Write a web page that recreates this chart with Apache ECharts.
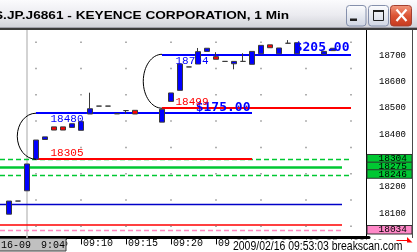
<!DOCTYPE html>
<html><head><meta charset="utf-8">
<style>html,body{margin:0;padding:0;background:#fff;overflow:hidden}#c{width:417px;height:252px}</style>
<script src="https://cdn.jsdelivr.net/npm/echarts@6/dist/echarts.min.js"></script>
</head><body><div id="c"></div>
<script>
// ---- data ----
const categories = ['09:01','09:02','09:03','09:04','09:05','09:06','09:07','09:08','09:09','09:10',
  '09:11','09:12','09:13','09:14','09:15','09:16','09:17','09:18','09:19','09:20',
  '09:21','09:22','09:23','09:24','09:25','09:26','09:27','09:28','09:29','09:30',
  '09:31','09:32','09:33','09:34','09:35','09:36','09:37','09:38','09:39','09:40','09:41','09:42'];
// [open, close, low, high]
const candles = [
  '-',
  [18096,18146,18096,18146],
  [18146,18146,18146,18146],
  [18185,18287,18185,18287],
  [18305,18378,18305,18378],
  [18380,18390,18380,18390],
  [18428,18416,18416,18428],
  [18428,18416,18416,18428],
  [18426,18440,18426,18440],
  [18415,18448,18415,18448],
  [18477,18497,18477,18558],
  [18507,18507,18507,18507],
  [18507,18507,18507,18507],
  [18478,18478,18478,18478],
  [18490,18490,18478,18490],
  [18491,18477,18477,18491],
  '-',
  '-',
  [18446,18495,18446,18495],
  [18525,18557,18525,18557],
  [18567,18667,18567,18667],
  [18656,18656,18656,18656],
  [18667,18714,18667,18728],
  [18715,18727,18715,18727],
  [18695,18685,18685,18712],
  [18677,18677,18677,18677],
  [18668,18677,18647,18677],
  [18677,18677,18677,18708],
  [18666,18715,18666,18715],
  [18706,18738,18706,18738],
  [18740,18729,18729,18740],
  [18706,18728,18706,18728],
  [18746,18746,18746,18758],
  [18706,18748,18706,18748],
  '-',
  '-',
  [18704,18715,18704,18715],
  [18718,18727,18718,18727],
  '-',
  '-',
  '-',
  '-'
];
const levelValues = [18304, 18275, 18246, 18135, 18054, 18034, 18305, 18480, 18499, 18704];
const levelStart  = ['09:01','09:01','09:01','09:01','09:01','09:01','09:05','09:05','09:19','09:19'];
const levelEnd    = ['09:40','09:39','09:40','09:39','09:39','09:39','09:29','09:29','09:40','09:40'];
const cursorTime = '09:04';
const arcTimes = ['09:05','09:19'];
const arcTop = [18480, 18704];
const arcBottom = [18305, 18499];
const annoTexts  = ['18480','18305','$175.00','18704','18499','$205.00'];
const annoTimes  = ['09:05','09:05','09:29','09:19','09:19','09:40'];
const annoValues = [18480, 18305, 18480, 18704, 18499, 18704];
const tagValues = [18304, 18275, 18246, 18034];
const tagTexts = ['18304','18275','18246','18034'];
const dotTimes = ['09:05','09:10','09:15','09:20','09:25','09:30','09:35','09:40'];
const dotLevels = [18050,18150,18250,18350,18450,18550,18650,18750];
const yMin = 18000, yMax = 18800, yStep = 100;
const titleText = 'S.JP.J6861 - KEYENCE CORPORATION, 1 Min';
const cursorDate = '16-09';
const cursorClock = '9:04';
const stampText = '2009/02/16 09:53:03 breakscan.com';

// ---- styles ----
const BLUE = '#0000ff', RED = '#ff0000', GREEN = '#00c832', PINK = '#ff88c0';
const levelStyles = [
  {color: GREEN, width: 1.3, type: [5, 3]},
  {color: GREEN, width: 2.5, type: 'solid'},
  {color: GREEN, width: 1.3, type: [5, 3]},
  {color: '#0000c8', width: 1.3, type: 'solid'},
  {color: RED, width: 1.6, type: 'solid'},
  {color: PINK, width: 1.4, type: [5, 3]},
  {color: RED, width: 2, type: 'solid'},
  {color: BLUE, width: 2.2, type: 'solid'},
  {color: RED, width: 2, type: 'solid'},
  {color: BLUE, width: 2.2, type: 'solid'}
];
const MONO = '"Liberation Mono", "DejaVu Sans Mono", monospace';
const annoStyles = [
  {dx: 14.5, dy: 6.3, color: BLUE, font: '11px ' + MONO, align: 'left'},
  {dx: 14.5, dy: -6.3, color: RED, font: '11px ' + MONO, align: 'left'},
  {dx: -1.5, dy: -6, color: BLUE, font: 'bold 13px "DejaVu Sans Mono", monospace', align: 'right'},
  {dx: 13.5, dy: 6.3, color: BLUE, font: '11px ' + MONO, align: 'left'},
  {dx: 13.5, dy: -6.3, color: RED, font: '11px ' + MONO, align: 'left'},
  {dx: -1.5, dy: -6.5, color: BLUE, font: 'bold 13px "DejaVu Sans Mono", monospace', align: 'right'}
];
const tagColors = ['#00c832', '#00c832', '#00c832', '#ff88c8'];

const markLineData = levelValues.map((v, i) => [
  {coord: [levelStart[i], v], lineStyle: levelStyles[i]},
  {coord: [levelEnd[i], v]}
]);
markLineData.unshift({xAxis: cursorTime, lineStyle: {color: '#c4c4c4', width: 1.5, type: 'solid'}});

const dotData = [];
dotTimes.forEach(t => dotLevels.forEach(v => dotData.push([t, v])));

const isFive = (idx, val) => Number(String(val).slice(3)) % 5 === 0;

const chart = echarts.init(document.getElementById('c'), null, {renderer: 'canvas', width: 417, height: 252});
chart.setOption({
  animation: false,
  backgroundColor: '#ffffff',
  grid: {left: 0, right: 48, top: 29.05, bottom: 12.55},
  xAxis: {
    type: 'category', data: categories, boundaryGap: false, offset: -2,
    axisLine: {show: true, lineStyle: {color: '#000', width: 3}},
    axisTick: {show: true, interval: isFive, length: 7, lineStyle: {color: '#000', width: 1}},
    axisLabel: {interval: isFive, align: 'left', margin: 1, padding: [0, 0, 0, 2], color: '#000', fontFamily: 'Liberation Mono', fontSize: 10},
    splitLine: {show: false}
  },
  yAxis: {
    type: 'value', position: 'right', min: yMin, max: yMax, interval: yStep, offset: -3,
    axisLine: {show: true, lineStyle: {color: '#000', width: 1}},
    axisTick: {show: false},
    splitLine: {show: false},
    axisLabel: {showMinLabel: false, showMaxLabel: false, margin: 13, color: '#000', fontFamily: 'Liberation Mono', fontSize: 9,
      formatter: v => String(v)}
  },
  series: [
    {
      type: 'scatter', data: dotData, symbol: 'rect', symbolSize: 1.5, silent: true,
      itemStyle: {color: '#7a7a7a'}, z: 1,
      markLine: {z: 1, silent: true, symbol: ['none', 'none'], label: {show: false}, animation: false, data: markLineData}
    },
    {
      type: 'candlestick', data: candles, barWidth: 5.5, z: 10,
      itemStyle: {color: BLUE, color0: RED, borderColor: '#3a3a3a', borderColor0: '#3a3a3a', borderColorDoji: '#3a3a3a', borderWidth: 1}
    },
    {
      type: 'custom', z: 11, silent: true,
      data: arcTimes.map((t, i) => [t, arcTop[i], arcBottom[i]]),
      renderItem(params, api) {
        const x = api.value(0);
        const p1 = api.coord([x, api.value(1)]);
        const p2 = api.coord([x, api.value(2)]);
        const rx = api.size([1, 0])[0] * 2.08;
        const cx = p1[0], cy = (p1[1] + p2[1]) / 2, ry = (p2[1] - p1[1]) / 2;
        const k = 0.5523;
        const d = 'M' + cx + ',' + (cy - ry) +
          ' C' + (cx - k * rx) + ',' + (cy - ry) + ' ' + (cx - rx) + ',' + (cy - k * ry) + ' ' + (cx - rx) + ',' + cy +
          ' C' + (cx - rx) + ',' + (cy + k * ry) + ' ' + (cx - k * rx) + ',' + (cy + ry) + ' ' + cx + ',' + (cy + ry);
        return {type: 'path', shape: {pathData: d}, style: {stroke: '#000', fill: 'none', lineWidth: 1}};
      }
    },
    {
      type: 'custom', z: 12, silent: true,
      data: annoTimes.map((t, i) => [t, annoValues[i]]),
      renderItem(params, api) {
        const i = params.dataIndex;
        const p = api.coord([api.value(0), api.value(1)]);
        const s = annoStyles[i];
        return {type: 'text', x: p[0] + s.dx, y: p[1] + s.dy,
          style: {text: annoTexts[i], fill: s.color, font: s.font, align: s.align, verticalAlign: 'middle'}};
      }
    },
    {
      type: 'custom', z: 13, silent: true, clip: false,
      data: tagValues.map(v => [categories[0], v]),
      renderItem(params, api) {
        const i = params.dataIndex;
        const p = api.coord([api.value(0), api.value(1)]);
        const cs = params.coordSys;
        const x0 = cs.x + cs.width - 2;
        return {type: 'group', children: [
          {type: 'rect', shape: {x: x0, y: p[1] - 5, width: 45, height: 8.5},
            style: {fill: tagColors[i], stroke: '#303030', lineWidth: 1}},
          {type: 'text', x: x0 + 40, y: p[1] - 0.6,
            style: {text: tagTexts[i], fill: '#000', font: '9.5px ' + MONO, align: 'right', verticalAlign: 'middle'}}
        ]};
      }
    }
  ],
  graphic: [
    {type: 'rect', z: 100, shape: {x: 0, y: 0, width: 417, height: 27},
      style: {fill: {type: 'linear', x: 0, y: 0, x2: 0, y2: 1, colorStops: [
        {offset: 0, color: '#fbfbfd'}, {offset: 0.55, color: '#ebebf0'}, {offset: 1, color: '#d2d3da'}]}}},
    {type: 'rect', z: 100, shape: {x: 0, y: 27, width: 417, height: 1}, style: {fill: '#a0a0aa'}},
    {type: 'rect', z: 100, shape: {x: 0, y: 28, width: 417, height: 2}, style: {fill: '#3c3c3c'}},
    {type: 'text', z: 101, x: -6, y: 16, scaleX: 1.24,
      style: {text: titleText, fill: '#000', font: 'bold 11px "Liberation Sans", Arial, sans-serif', align: 'left', verticalAlign: 'middle'}},
    // minimize
    {type: 'rect', z: 101, shape: {x: 346.5, y: 5.5, width: 19.5, height: 20.5, r: 3},
      style: {fill: {type: 'linear', x: 0, y: 0, x2: 0, y2: 1, colorStops: [{offset: 0, color: '#fdfdfe'}, {offset: 1, color: '#cfd5e3'}]}, stroke: '#8590ac', lineWidth: 1}},
    {type: 'rect', z: 102, shape: {x: 350, y: 18.5, width: 7, height: 2.5}, style: {fill: '#202020'}},
    // maximize
    {type: 'rect', z: 101, shape: {x: 368.5, y: 5.5, width: 20, height: 20.5, r: 3},
      style: {fill: {type: 'linear', x: 0, y: 0, x2: 0, y2: 1, colorStops: [{offset: 0, color: '#fdfdfe'}, {offset: 1, color: '#cfd5e3'}]}, stroke: '#8590ac', lineWidth: 1}},
    {type: 'rect', z: 102, shape: {x: 373.5, y: 10.5, width: 10, height: 10}, style: {fill: 'none', stroke: '#202020', lineWidth: 1}},
    {type: 'rect', z: 102, shape: {x: 373, y: 10, width: 11, height: 2}, style: {fill: '#202020'}},
    // close
    {type: 'rect', z: 101, shape: {x: 390.5, y: 5.5, width: 21, height: 20.5, r: 3},
      style: {fill: {type: 'linear', x: 0, y: 0, x2: 0, y2: 1, colorStops: [{offset: 0, color: '#f39a80'}, {offset: 0.5, color: '#dc5434'}, {offset: 1, color: '#c4391e'}]}, stroke: '#a34030', lineWidth: 1}},
    {type: 'line', z: 102, shape: {x1: 396.5, y1: 9.5, x2: 406.5, y2: 21}, style: {stroke: '#fff', lineWidth: 2.2}},
    {type: 'line', z: 102, shape: {x1: 406.5, y1: 9.5, x2: 396.5, y2: 21}, style: {stroke: '#fff', lineWidth: 2.2}},
    // right frame line
    {type: 'line', z: 100, shape: {x1: 412.5, y1: 30, x2: 412.5, y2: 238}, style: {stroke: '#4a4a4a', lineWidth: 1}},
    // cursor time box
    {type: 'rect', z: 100, shape: {x: -1, y: 238.5, width: 67, height: 12.5}, style: {fill: '#c0c0c0', stroke: '#404040', lineWidth: 1}},
    {type: 'text', z: 101, x: 1, y: 245, style: {text: cursorDate, fill: '#000', font: '10px ' + MONO, align: 'left', verticalAlign: 'middle'}},
    {type: 'text', z: 101, x: 65, y: 245, style: {text: cursorClock, fill: '#000', font: '10px ' + MONO, align: 'right', verticalAlign: 'middle'}},
    // timestamp
    {type: 'rect', z: 100, shape: {x: 231, y: 239.5, width: 186, height: 13}, style: {fill: '#fff'}},
    {type: 'text', z: 101, x: 233, y: 246.6, scaleX: 0.78,
      style: {text: stampText, fill: '#000', font: '13.4px "Liberation Sans", Arial, sans-serif', align: 'left', verticalAlign: 'middle'}},
    // small red marker
    {type: 'line', z: 102, shape: {x1: 396.5, y1: 240.5, x2: 410, y2: 240.5}, style: {stroke: '#ff0000', lineWidth: 1}},
    {type: 'polygon', z: 102, shape: {points: [[407, 237], [412.5, 242.5], [407, 242.5]]}, style: {fill: '#ff0000'}}
  ]
});
</script>
</body></html>
